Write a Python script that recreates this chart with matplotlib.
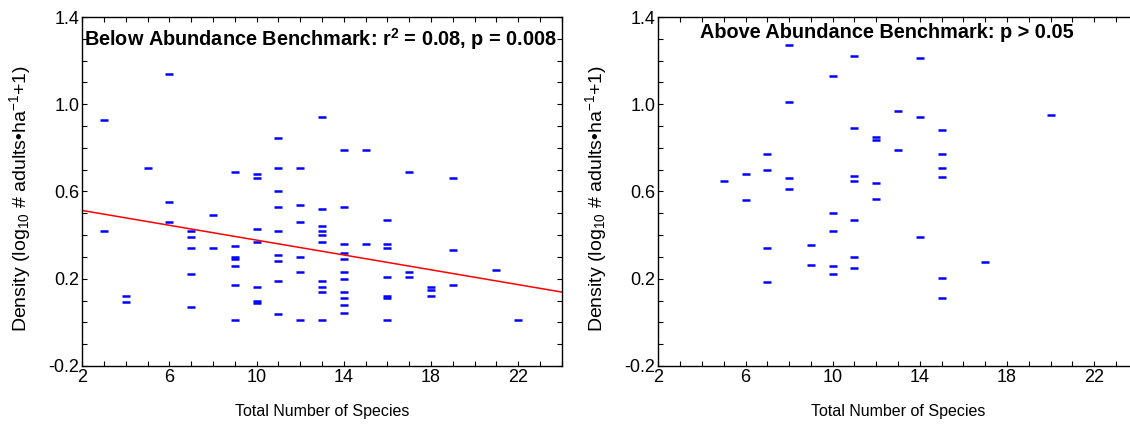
#!/usr/bin/env python3
"""Species richness vs. adult density, below / above abundance benchmark."""

import matplotlib

matplotlib.use("Agg")
import matplotlib.pyplot as plt  # noqa: E402
from matplotlib.ticker import MultipleLocator  # noqa: E402

plt.rcParams["font.family"] = ["Liberation Sans", "DejaVu Sans"]
plt.rcParams["mathtext.fontset"] = "custom"
plt.rcParams["mathtext.rm"] = "Liberation Sans"
plt.rcParams["mathtext.it"] = "Liberation Sans:italic"
plt.rcParams["mathtext.bf"] = "Liberation Sans:bold"

# below benchmark: species count and density
BELOW_SPECIES = (
    [3, 3, 4, 4, 5, 6, 6, 6]
    + [7] * 5
    + [8] * 2
    + [9] * 7
    + [10] * 7
    + [11] * 9
    + [12] * 6
    + [13] * 10
    + [14] * 11
    + [15] * 2
    + [16] * 7
    + [17] * 3
    + [18] * 3
    + [19] * 3
    + [21, 22]
)
BELOW_DENSITY = [
    0.93, 0.42, 0.12, 0.095, 0.71, 1.14, 0.55, 0.46,
    0.42, 0.39, 0.34, 0.22, 0.07,
    0.49, 0.34,
    0.69, 0.35, 0.30, 0.29, 0.26, 0.17, 0.01,
    0.68, 0.66, 0.43, 0.37, 0.16, 0.10, 0.09,
    0.845, 0.71, 0.60, 0.53, 0.42, 0.31, 0.28, 0.19, 0.04,
    0.71, 0.54, 0.46, 0.30, 0.23, 0.01,
    0.94, 0.52, 0.44, 0.42, 0.40, 0.37, 0.19, 0.16, 0.14, 0.01,
    0.79, 0.53, 0.36, 0.32, 0.29, 0.23, 0.20, 0.14, 0.11, 0.08, 0.045,
    0.79, 0.36,
    0.47, 0.36, 0.34, 0.21, 0.12, 0.11, 0.01,
    0.69, 0.23, 0.21,
    0.16, 0.15, 0.12,
    0.66, 0.33, 0.17,
    0.24, 0.01,
]

# above benchmark
ABOVE_SPECIES = (
    [5, 6, 6]
    + [7] * 4
    + [8] * 4
    + [9] * 2
    + [10] * 5
    + [11] * 7
    + [12] * 4
    + [13] * 2
    + [14] * 3
    + [15] * 6
    + [17, 20]
)
ABOVE_DENSITY = [
    0.65, 0.68, 0.56,
    0.77, 0.70, 0.34, 0.185,
    1.27, 1.01, 0.66, 0.61,
    0.355, 0.265,
    1.13, 0.50, 0.42, 0.26, 0.22,
    1.22, 0.89, 0.67, 0.65, 0.47, 0.30, 0.25,
    0.85, 0.835, 0.64, 0.565,
    0.97, 0.79,
    1.21, 0.94, 0.39,
    0.88, 0.77, 0.71, 0.665, 0.205, 0.11,
    0.275, 0.95,
]

# fitted line for the below-benchmark group
FIT_INTERCEPT = 0.547
FIT_SLOPE = -0.0170
FIT_RANGE = [2, 24]

BELOW_TITLE = r"Below Abundance Benchmark: r$^\mathbf{2}$ = 0.08, p = 0.008"
ABOVE_TITLE = "Above Abundance Benchmark: p > 0.05"
X_LABEL = "Total Number of Species"
Y_LABEL = r"Density (log$_{10}$ # adults•ha$^{-1}$+1)"

X_TICKS = [2, 6, 10, 14, 18, 22]
Y_TICKS = [-0.2, 0.2, 0.6, 1.0, 1.4]
Y_TICK_LABELS = ["-0.2", "0.2", "0.6", "1.0", "1.4"]

TICK_FONTSIZE = 13
XLABEL_FONTSIZE = 11.5
YLABEL_FONTSIZE = 14
TITLE_FONTSIZE = 14.3


def style_axis(ax):
    ax.set_xlim(2, 24)
    ax.set_ylim(-0.2, 1.4)
    ax.set_xticks(X_TICKS)
    ax.set_yticks(Y_TICKS)
    ax.set_yticklabels(Y_TICK_LABELS)
    ax.xaxis.set_minor_locator(MultipleLocator(1))
    ax.yaxis.set_minor_locator(MultipleLocator(0.1))
    ax.tick_params(which="both", direction="in", top=True, right=True,
                   length=3.5, width=0.8, labelsize=TICK_FONTSIZE, pad=2.0)
    for spine in ax.spines.values():
        spine.set_linewidth(1.0)
    ax.set_xlabel(X_LABEL, fontsize=XLABEL_FONTSIZE)
    ax.set_ylabel(Y_LABEL, fontsize=YLABEL_FONTSIZE)
    ax.xaxis.set_label_coords(0.5, -0.108)
    ax.yaxis.set_label_coords(-0.103, 0.48)


def scatter(ax, xs, ys):
    ax.plot(xs, ys, linestyle="none", marker="_", markersize=6,
            markeredgewidth=1.8, color="#0000ff")


def main():
    fig = plt.figure(figsize=(11.3, 4.24), dpi=100)
    ax1 = fig.add_axes([0.0728, 0.1368, 0.4243, 0.8231])
    ax2 = fig.add_axes([0.5826, 0.1368, 0.4243, 0.8231])

    scatter(ax1, BELOW_SPECIES, BELOW_DENSITY)
    fit_y = [FIT_INTERCEPT + FIT_SLOPE * x for x in FIT_RANGE]
    ax1.plot(FIT_RANGE, fit_y, color="#ff0000", linewidth=1.1)
    ax1.text(0.496, 0.937, BELOW_TITLE, transform=ax1.transAxes, ha="center",
             va="center", fontsize=TITLE_FONTSIZE, fontweight="bold")
    style_axis(ax1)

    scatter(ax2, ABOVE_SPECIES, ABOVE_DENSITY)
    ax2.text(0.476, 0.955, ABOVE_TITLE, transform=ax2.transAxes, ha="center",
             va="center", fontsize=TITLE_FONTSIZE, fontweight="bold")
    style_axis(ax2)

    fig.savefig("out.png", dpi=100)
    plt.close(fig)


if __name__ == "__main__":
    main()
